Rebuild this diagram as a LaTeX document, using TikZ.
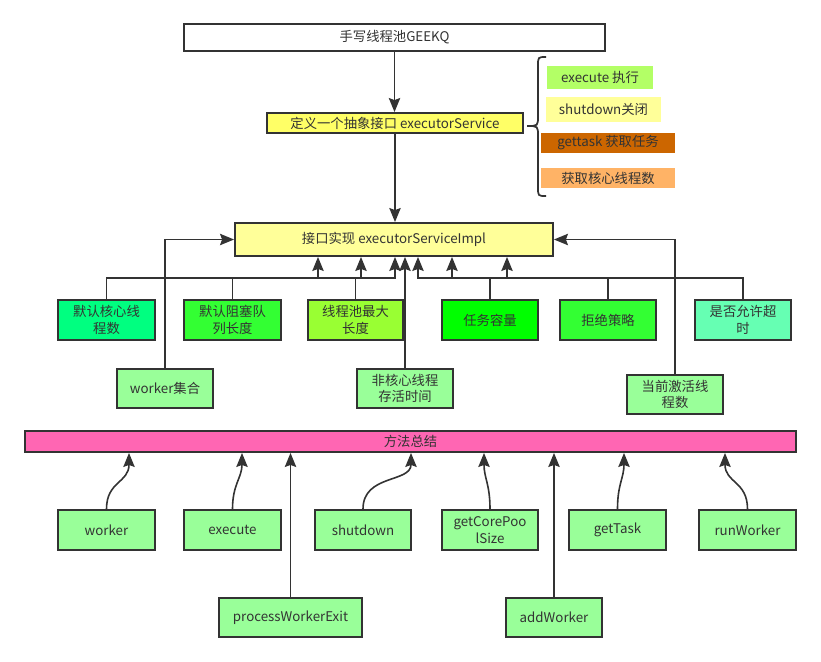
\documentclass[tikz,border=0pt]{standalone}
\usepackage{fontspec}
\setmainfont{Noto Sans CJK SC}
\usetikzlibrary{arrows.meta}
\definecolor{ln}{HTML}{333333}
\definecolor{cIface}{HTML}{FFFF66}
\definecolor{cImpl}{HTML}{FFFF99}
\definecolor{cA}{HTML}{00FF80}
\definecolor{cB}{HTML}{33FF33}
\definecolor{cC}{HTML}{99FF33}
\definecolor{cD}{HTML}{00FF00}
\definecolor{cE}{HTML}{66FFB3}
\definecolor{cLight}{HTML}{99FF99}
\definecolor{cBar}{HTML}{FF66B3}
\definecolor{tExec}{HTML}{B3FF66}
\definecolor{tShut}{HTML}{FFFF99}
\definecolor{tTask}{HTML}{CC6600}
\definecolor{tCore}{HTML}{FFB366}
\tikzset{
  rect/.style args={#1,#2,#3,#4}{minimum width={(#3-#1)*0.75pt}, minimum height={(#4-#2)*0.75pt}, at={({(#1+#3)/2},{(#2+#4)/2})}},
  box/.style={draw=ln, line width=1.4pt, inner sep=0pt, align=center, text=ln},
  tag/.style={inner sep=0pt, align=center, text=ln},
  arr/.style={draw=ln, line width=1.2pt, -{Stealth[length=10.5pt,width=8.5pt,inset=1.5pt]}},
  brace/.style={draw=ln, line width=1.3pt},
}
\begin{document}
\begin{tikzpicture}[x=0.75pt,y=-0.75pt, font=\fontsize{10pt}{12.5pt}\selectfont]
\useasboundingbox (0,0) rectangle (821,661);
% top
\node[box, rect={184,24,605,51}, fill=white] (title) {手写线程池GEEKQ};
\node[box, rect={267,113,523,133}, fill=cIface] (iface) {定义一个抽象接口 executorService};
\node[box, rect={235,223,553,256}, fill=cImpl] (impl) {接口实现 executorServiceImpl};
% tags
\node[tag, rect={547,66,653,89}, fill=tExec] (t1) {execute 执行};
\node[tag, rect={546,97,661,122}, fill=tShut] (t2) {shutdown关闭};
\node[tag, rect={541,133,675,153}, fill=tTask] (t3) {gettask 获取任务};
\node[tag, rect={541,168,675,188}, fill=tCore] (t4) {获取核心线程数};
\draw[brace] (546,57) .. controls (538,57) .. (538,66) -- (538,116) .. controls (538,126) .. (527,126)
  .. controls (538,126) .. (538,136) -- (538,187) .. controls (538,196) .. (546,196);
% row of properties
\node[box, rect={58,300,155,340}, fill=cA] (p1) {默认核心线\\程数};
\node[box, rect={184,300,281,340}, fill=cB] (p2) {默认阻塞队\\列长度};
\node[box, rect={308,300,403,340}, fill=cC] (p3) {线程池最大\\长度};
\node[box, rect={442,300,538,340}, fill=cD] (p4) {任务容量};
\node[box, rect={560,300,656,340}, fill=cB] (p5) {拒绝策略};
\node[box, rect={695,300,791,340}, fill=cE] (p6) {是否允许超\\时};
\node[box, rect={117,369,213,408}, fill=cLight] (q1) {worker集合};
\node[box, rect={357,369,453,408}, fill=cLight] (q2) {非核心线程\\存活时间};
\node[box, rect={627,375,723,414}, fill=cLight] (q3) {当前激活线\\程数};
\coordinate (bus) at (0,278);
% connectors
\draw[arr] (title.south) -- (title.south |- iface.north);
\draw[arr] (iface.south) -- (iface.south |- impl.north);
\draw[arr] (p1.north) -- (p1.north |- bus) -| (318,0 |- impl.south);
\draw[arr] (p2.north) -- (p2.north |- bus) -| (361,0 |- impl.south);
\draw[arr] (p3.north) -- (p3.north |- bus) -| (395,0 |- impl.south);
\draw[arr] (p4.north) -- (p4.north |- bus) -| (507,0 |- impl.south);
\draw[arr] (p5.north) -- (p5.north |- bus) -| (452,0 |- impl.south);
\draw[arr] (p6.north) -- (p6.north |- bus) -| (418,0 |- impl.south);
\draw[arr] (q2.north) -- (q2.north |- impl.south);
\draw[arr] (q1.north) |- (impl.west);
\draw[arr] (q3.north) |- (impl.east);
% method summary
\node[box, rect={25,431,796,452}, fill=cBar] (bar) {方法总结};
\node[box, rect={58,510,155,550}, fill=cLight] (b1) {worker};
\node[box, rect={184,510,281,550}, fill=cLight] (b2) {execute};
\node[box, rect={315,510,411,550}, fill=cLight] (b3) {shutdown};
\node[box, rect={442,510,538,550}, fill=cLight] (b4) {getCorePoo\\lSize};
\node[box, rect={569,510,666,550}, fill=cLight] (b5) {getTask};
\node[box, rect={699,510,796,550}, fill=cLight] (b6) {runWorker};
\node[box, rect={219,598,362,637}, fill=cLight] (b7) {processWorkerExit};
\node[box, rect={506,598,602,637}, fill=cLight] (b8) {addWorker};
\draw[arr] (b1.north) .. controls +(0,-28) and +(0,30) .. (bar.south -| 129,0);
\draw[arr] (b2.north) .. controls +(0,-25) and +(0,25) .. (bar.south -| 242,0);
\draw[arr] (b3.north) .. controls +(0,-35) and +(0,30) .. (bar.south -| 411,0);
\draw[arr] (b4.north) .. controls +(0,-25) and +(0,25) .. (bar.south -| 484,0);
\draw[arr] (b5.north) .. controls +(0,-25) and +(0,25) .. (bar.south -| 624,0);
\draw[arr] (b6.north) .. controls +(0,-28) and +(0,30) .. (bar.south -| 725,0);
\draw[arr] (b7.north) -- (b7.north |- bar.south);
\draw[arr] (b8.north) -- (b8.north |- bar.south);
\end{tikzpicture}
\end{document}
